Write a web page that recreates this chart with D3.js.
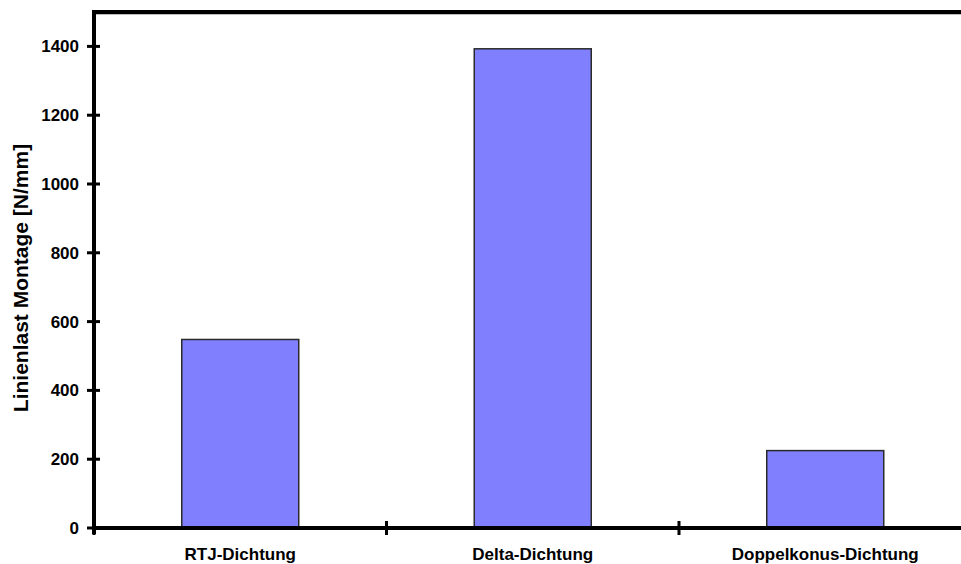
<!DOCTYPE html>
<html>
<head>
<meta charset="utf-8">
<script src="https://cdn.jsdelivr.net/npm/d3@7"></script>
<style>
  html, body { margin: 0; padding: 0; background: #fff; }
  svg { display: block; }
  svg text { font-family: "Liberation Sans", Arial, sans-serif; font-weight: bold; fill: #000; }
</style>
</head>
<body>
<svg id="chart" width="961" height="564"></svg>
<script>
// Montage line load per seal type
const categories = ["RTJ-Dichtung", "Delta-Dichtung", "Doppelkonus-Dichtung"];
const values = [548, 1393, 225];
const yTicks = [0, 200, 400, 600, 800, 1000, 1200, 1400];
const yTitle = "Linienlast Montage [N/mm]";

const svg = d3.select("#chart");
const plotLeft = 94, plotTop = 12, plotBottom = 528;
const step = 292.5;

const x = d3.scaleBand()
  .domain(categories)
  .range([plotLeft, plotLeft + step * categories.length])
  .paddingInner(0.6)
  .paddingOuter(0.3);

const y = d3.scaleLinear().domain([0, 1500]).range([plotBottom, plotTop]);

// bars
svg.append("g").selectAll("rect")
  .data(categories)
  .join("rect")
  .attr("x", d => x(d))
  .attr("width", x.bandwidth())
  .attr("y", (d, i) => y(values[i]))
  .attr("height", (d, i) => y(0) - y(values[i]))
  .attr("fill", "#8080ff")
  .attr("stroke", "#2a2a2a")
  .attr("stroke-width", 1.5);

// top frame line with its soft shade
svg.append("line")
  .attr("x1", plotLeft).attr("x2", 961)
  .attr("y1", plotTop + 2.5).attr("y2", plotTop + 2.5)
  .attr("stroke", "#bbb").attr("stroke-width", 1);
svg.append("line")
  .attr("x1", plotLeft - 2).attr("x2", 961)
  .attr("y1", plotTop).attr("y2", plotTop)
  .attr("stroke", "#000").attr("stroke-width", 4);

// y axis
const yAxis = svg.append("g")
  .attr("transform", `translate(${plotLeft},0)`)
  .call(d3.axisLeft(y).tickValues(yTicks).tickFormat(d3.format("d")).tickSize(0).tickPadding(15));
yAxis.select(".domain").remove();
yAxis.attr("font-size", null).attr("font-family", null);
yAxis.selectAll("text").style("font-size", "17px");
svg.append("line")
  .attr("x1", plotLeft).attr("x2", plotLeft)
  .attr("y1", plotTop - 2).attr("y2", plotBottom + 6)
  .attr("stroke", "#000").attr("stroke-width", 4);
svg.append("g").selectAll("line")
  .data(yTicks)
  .join("line")
  .attr("x1", plotLeft - 7).attr("x2", plotLeft + 6)
  .attr("y1", d => y(d)).attr("y2", d => y(d))
  .attr("stroke", "#000").attr("stroke-width", 3);

// x axis
svg.append("line")
  .attr("x1", plotLeft).attr("x2", 961)
  .attr("y1", plotBottom).attr("y2", plotBottom)
  .attr("stroke", "#000").attr("stroke-width", 4);
const boundaries = d3.range(categories.length).map(i => plotLeft + step * i);
svg.append("g").selectAll("line")
  .data(boundaries)
  .join("line")
  .attr("x1", d => d).attr("x2", d => d)
  .attr("y1", plotBottom - 7).attr("y2", plotBottom + 7)
  .attr("stroke", "#000").attr("stroke-width", 3);

svg.append("g").selectAll("text")
  .data(categories)
  .join("text")
  .attr("x", d => x(d) + x.bandwidth() / 2)
  .attr("y", 560)
  .attr("text-anchor", "middle")
  .style("font-size", "17px")
  .text(d => d);

// y axis title
svg.append("text")
  .attr("transform", "translate(28,278) rotate(-90)")
  .attr("text-anchor", "middle")
  .style("font-size", "21px")
  .text(yTitle);
</script>
</body>
</html>
